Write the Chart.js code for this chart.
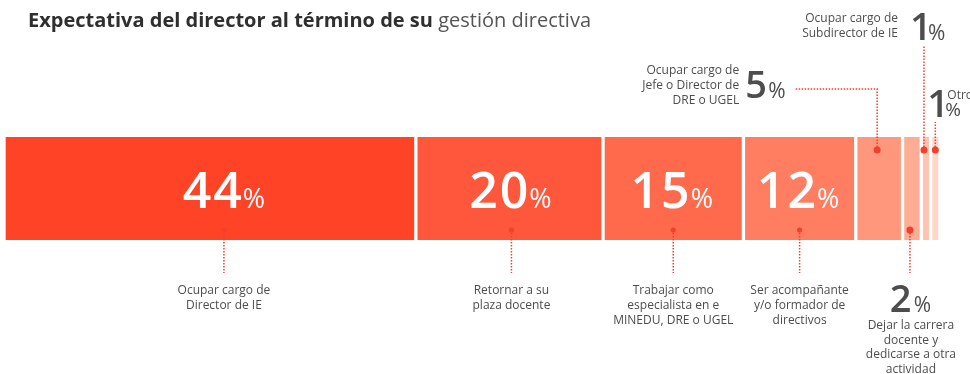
<!DOCTYPE html>
<html lang="es">
<head>
<meta charset="utf-8">
<title>Expectativa del director al término de su gestión directiva</title>
<script src="https://cdn.jsdelivr.net/npm/chart.js@4.4.0/dist/chart.umd.min.js"></script>
<style>
  html, body { margin: 0; padding: 0; background: #fff; }
  #wrap { position: relative; width: 970px; height: 374px; }
  #titulo {
    position: absolute; left: 28px; top: 6px; margin: 0;
    font-family: "Open Sans", sans-serif; font-size: 20px; font-weight: normal;
    color: #555; white-space: nowrap;
  }
  #titulo b { color: #2f2f2f; font-weight: bold; }
</style>
</head>
<body>
<div id="wrap">
  <h1 id="titulo"><b>Expectativa del director al término de su</b> gestión directiva</h1>
  <canvas id="grafico" width="970" height="374"></canvas>
</div>
<script>
// categorias y porcentajes de la barra
var categorias = [
  'Ocupar cargo de\nDirector de IE',
  'Retornar a su\nplaza docente',
  'Trabajar como\nespecialista en e\nMINEDU, DRE o UGEL',
  'Ser acompañante\ny/o formador de\ndirectivos',
  'Ocupar cargo de\nJefe o Director de\nDRE o UGEL',
  'Dejar la carrera\ndocente y\ndedicarse a otra\nactividad',
  'Ocupar cargo de\nSubdirector de IE',
  'Otro'
];
var valores = [44, 20, 15, 12, 5, 2, 1, 1];

var colores = ['#ff4327', '#ff573b', '#ff6a4d', '#ff7d61', '#ff977c', '#ffac94', '#ffc3b0', '#ffd7ca'];

// donde va la etiqueta de cada tramo y su corrimiento horizontal
var posiciones = ['dentro', 'dentro', 'dentro', 'dentro', 'arriba-izq', 'abajo', 'arriba-sub', 'arriba-otro'];
var corrimiento = [14, 2, 0, 0, -2, -2, -2, 0];

var FUENTE = '"Open Sans", sans-serif';
var ROJO = '#f3402e';
var GRIS = '#4d4d4d';

function lineaPunteada(ctx, puntos) {
  ctx.save();
  ctx.strokeStyle = ROJO;
  ctx.lineWidth = 1.5;
  ctx.setLineDash([1.5, 1.5]);
  ctx.beginPath();
  ctx.moveTo(puntos[0][0], puntos[0][1]);
  for (var i = 1; i < puntos.length; i++) ctx.lineTo(puntos[i][0], puntos[i][1]);
  ctx.stroke();
  ctx.restore();
}

function punto(ctx, x, y, r) {
  ctx.save();
  ctx.fillStyle = ROJO;
  ctx.beginPath();
  ctx.arc(x, y, r, 0, Math.PI * 2);
  ctx.fill();
  ctx.restore();
}

// numero grande + "%" pequeño sobre la misma linea base (x = borde visible del numero)
function porcentaje(ctx, valor, x, y, tam, color, alinear) {
  var ls = Math.round(tam * 0.04);
  var fNum = '600 ' + tam + 'px ' + FUENTE;
  var fPct = 'normal ' + Math.round(tam * 0.54) + 'px ' + FUENTE;
  ctx.save();
  ctx.fillStyle = color;
  ctx.textBaseline = 'alphabetic';
  ctx.textAlign = 'left';
  var num = String(valor);
  ctx.letterSpacing = ls + 'px';
  ctx.font = fNum;
  var mNum = ctx.measureText(num);
  var izq = -mNum.actualBoundingBoxLeft;
  var der = mNum.width - ls - 2;
  if (num.length === 1) der = mNum.actualBoundingBoxRight;
  ctx.letterSpacing = '0px';
  ctx.font = fPct;
  var wPct = ctx.measureText('%').width;
  var sep = 3;
  var total = der - izq + sep + wPct;
  var x0 = (alinear === 'center' ? x - total / 2 : x) - izq;
  ctx.letterSpacing = ls + 'px';
  ctx.font = fNum;
  ctx.fillText(num, x0, y);
  ctx.letterSpacing = '0px';
  ctx.font = fPct;
  ctx.fillText('%', x0 + der + sep, y);
  ctx.restore();
}

function texto(ctx, txt, x, y, alinear, interlinea) {
  ctx.save();
  ctx.fillStyle = GRIS;
  ctx.font = '12px ' + FUENTE;
  ctx.textAlign = alinear;
  ctx.textBaseline = 'middle';
  txt.split('\n').forEach(function (l, i) {
    ctx.fillText(l, x, y + i * interlinea);
  });
  ctx.restore();
}

var etiquetas = {
  id: 'etiquetas',
  afterDatasetsDraw: function (chart) {
    var ctx = chart.ctx;
    chart.data.datasets.forEach(function (ds, i) {
      var bar = chart.getDatasetMeta(i).data[0];
      var cx = (bar.x + bar.base) / 2 + corrimiento[i];
      var arriba = bar.y - bar.height / 2;
      var abajo = bar.y + bar.height / 2;
      var v = valores[i];
      switch (posiciones[i]) {
        case 'dentro':
          porcentaje(ctx, v, cx, bar.y + 19, 50, '#fff', 'center');
          lineaPunteada(ctx, [[cx, abajo - 10], [cx, abajo + 33]]);
          punto(ctx, cx, abajo - 10, 2.6);
          texto(ctx, categorias[i], cx, abajo + 51, 'center', 15);
          break;
        case 'abajo':
          lineaPunteada(ctx, [[cx, abajo - 10], [cx, abajo + 33]]);
          punto(ctx, cx, abajo - 10, 3.5);
          porcentaje(ctx, v, cx + 1, abajo + 72, 38, GRIS, 'center');
          texto(ctx, categorias[i], cx + 1, abajo + 86, 'center', 14.5);
          break;
        case 'arriba-izq':
          lineaPunteada(ctx, [[cx, arriba + 13], [cx, arriba - 48], [cx - 82, arriba - 48]]);
          punto(ctx, cx, arriba + 13, 3.5);
          porcentaje(ctx, v, cx - 130, arriba - 39, 38, GRIS, 'left');
          texto(ctx, categorias[i], cx - 138, arriba - 66, 'right', 15);
          break;
        case 'arriba-sub':
          lineaPunteada(ctx, [[cx, arriba + 13], [cx, arriba - 92]]);
          punto(ctx, cx, arriba + 13, 3.5);
          porcentaje(ctx, v, cx - 12, arriba - 97, 38, GRIS, 'left');
          texto(ctx, categorias[i], cx - 26, arriba - 118, 'right', 15);
          break;
        case 'arriba-otro':
          lineaPunteada(ctx, [[cx, arriba + 13], [cx, arriba - 15]]);
          punto(ctx, cx, arriba + 13, 3.5);
          ctx.save();
          ctx.fillStyle = GRIS;
          ctx.textBaseline = 'alphabetic';
          ctx.font = '600 38px ' + FUENTE;
          var m = ctx.measureText(String(v));
          ctx.fillText(String(v), cx - 6 + m.actualBoundingBoxLeft, arriba - 20);
          ctx.font = 'normal 19px ' + FUENTE;
          ctx.fillText('%', cx + 10, arriba - 21);
          ctx.restore();
          texto(ctx, categorias[i], cx + 12, arriba - 41, 'left', 15);
          break;
      }
    });
  }
};

var datasets = valores.map(function (v, i) {
  return {
    label: categorias[i],
    data: [v],
    backgroundColor: colores[i],
    borderColor: '#ffffff',
    borderWidth: { left: 2, right: 2, top: 0, bottom: 0 },
    borderSkipped: false,
    barPercentage: 1,
    categoryPercentage: 1
  };
});

new Chart(document.getElementById('grafico').getContext('2d'), {
  type: 'bar',
  data: { labels: [''], datasets: datasets },
  options: {
    indexAxis: 'y',
    responsive: false,
    animation: false,
    layout: { padding: { left: 4, right: 30, top: 137, bottom: 134 } },
    scales: {
      x: { stacked: true, min: 0, max: 100, display: false },
      y: { stacked: true, display: false }
    },
    plugins: {
      legend: { display: false },
      tooltip: { enabled: false },
      title: { display: false }
    }
  },
  plugins: [etiquetas]
});
</script>
</body>
</html>
